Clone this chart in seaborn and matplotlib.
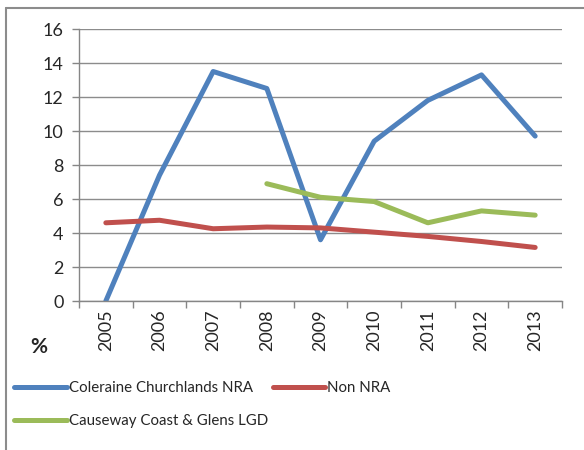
import matplotlib
matplotlib.use("Agg")
import matplotlib.pyplot as plt
import seaborn as sns
import pandas as pd
from matplotlib.lines import Line2D

years = [2005, 2006, 2007, 2008, 2009, 2010, 2011, 2012, 2013]
coleraine = [0.0, 7.4, 13.5, 12.5, 3.6, 9.4, 11.8, 13.3, 9.7]
non_nra = [4.6, 4.75, 4.25, 4.35, 4.3, 4.05, 3.8, 3.5, 3.15]
causeway_years = [2008, 2009, 2010, 2011, 2012, 2013]
causeway = [6.9, 6.1, 5.85, 4.6, 5.3, 5.05]
series_names = ["Coleraine Churchlands NRA", "Non NRA", "Causeway Coast & Glens LGD"]
colors = ["#4F81BD", "#C0504D", "#9BBB59"]
y_ticks = [0, 2, 4, 6, 8, 10, 12, 14, 16]

df = pd.concat([
    pd.DataFrame({"year": years, "value": coleraine, "series": series_names[0]}),
    pd.DataFrame({"year": years, "value": non_nra, "series": series_names[1]}),
    pd.DataFrame({"year": causeway_years, "value": causeway, "series": series_names[2]}),
])

sns.set_theme(style="white")
plt.rcParams["font.family"] = ["Lato", "DejaVu Sans"]

fig = plt.figure(figsize=(5.84, 4.5), dpi=100)
ax = fig.add_axes([79 / 584, 1 - 301 / 450, (562 - 79) / 584, (301 - 29) / 450])

sns.lineplot(data=df, x="year", y="value", hue="series", palette=colors,
             hue_order=series_names, linewidth=3.6, ax=ax, legend=False,
             solid_capstyle="round")

ax.set_xlim(2004.5, 2013.5)
ax.set_ylim(0, 16)
ax.set_yticks(y_ticks)
ax.set_yticklabels([str(v) for v in y_ticks], fontsize=13)
ax.set_xticks(years)
ax.set_xticklabels([str(y) for y in years], rotation=90, fontsize=13)
ax.set_xticks([y - 0.5 for y in years] + [2013.5], minor=True)
ax.tick_params(axis="x", which="major", length=0, pad=6)
ax.tick_params(axis="x", which="minor", length=5, width=1, color="#868686", direction="out", bottom=True)
ax.tick_params(axis="y", length=5, width=1, color="#868686", direction="out", left=True, pad=6)
ax.set_xlabel("")
ax.set_ylabel("")
ax.grid(axis="y", color="#8C8C8C", linewidth=1)
ax.grid(axis="x", visible=False)
for s in ["top", "right"]:
    ax.spines[s].set_visible(False)
for s in ["left", "bottom"]:
    ax.spines[s].set_color("#868686")
    ax.spines[s].set_linewidth(1)
ax.set_axisbelow(True)

fig.text(39 / 584, 1 - 347 / 450, "%", fontsize=15, fontweight="bold", ha="center", va="center")

handles = [Line2D([0], [0], color=c, linewidth=3.6, solid_capstyle="round") for c in colors]
order = [0, 2, 1]
leg = fig.legend([handles[i] for i in order], [series_names[i] for i in order],
                 loc="upper left", bbox_to_anchor=(14 / 584, 1 - 381 / 450),
                 ncol=2, frameon=False, fontsize=10.8, handlelength=3.5, handletextpad=0.15,
                 columnspacing=0.3, labelspacing=1.3, borderaxespad=0, borderpad=0)

fig.add_artist(Line2D([5.5 / 584, 5.5 / 584], [0, 1 - 7.5 / 450], color="#8C8C8C", linewidth=1.5))
fig.add_artist(Line2D([5.5 / 584, 1], [1 - 7.5 / 450, 1 - 7.5 / 450], color="#8C8C8C", linewidth=1.5))

fig.savefig("out.png", dpi=100)
